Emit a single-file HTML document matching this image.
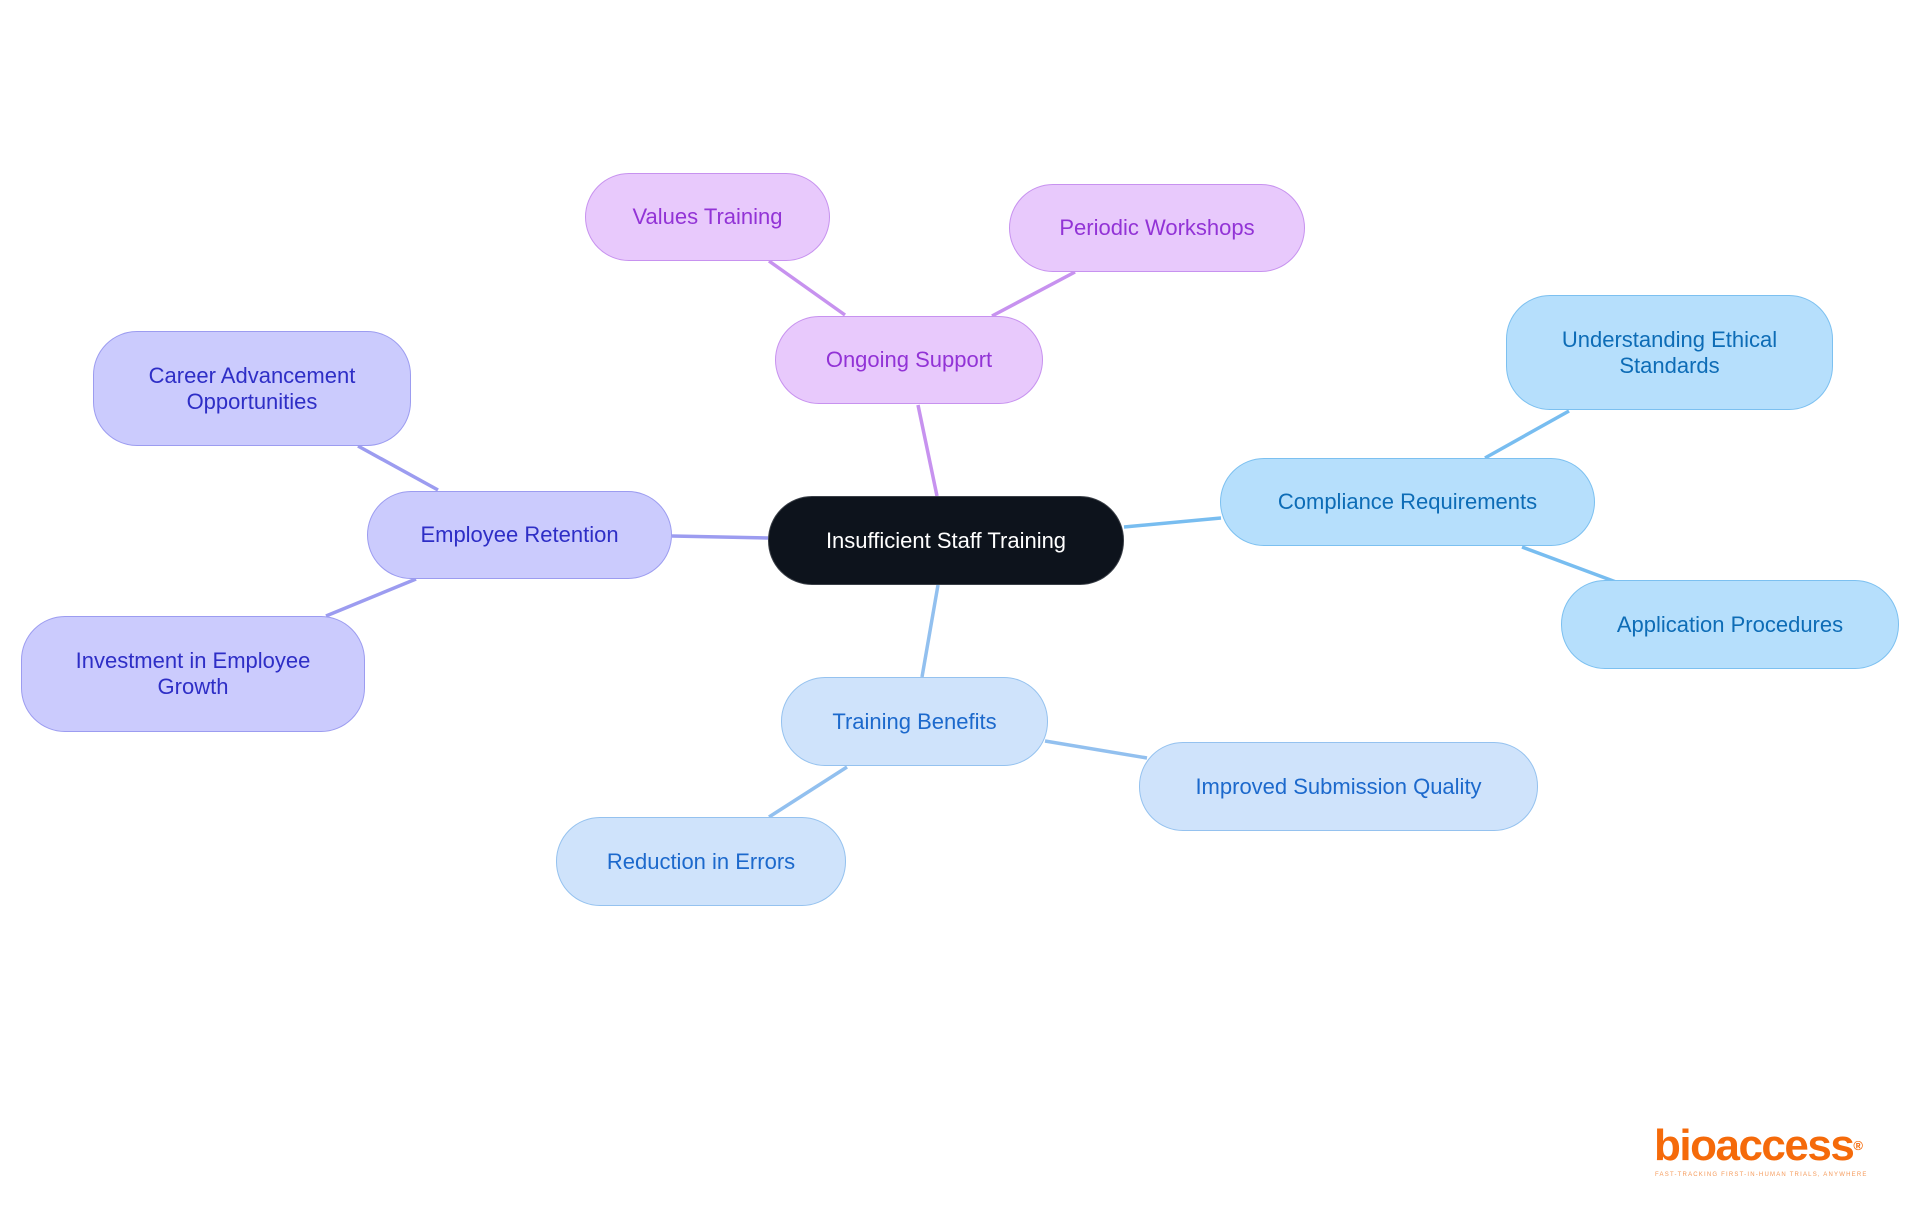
<!DOCTYPE html>
<html><head><meta charset="utf-8"><style>
html,body{margin:0;padding:0;background:#fff;width:1920px;height:1215px;overflow:hidden}
.n{position:absolute;box-sizing:border-box;border-radius:44px;display:flex;align-items:center;justify-content:center;text-align:center;font-family:"Liberation Sans",sans-serif;font-size:22px;line-height:26px;border:1.5px solid}
.p{background:#e8c9fc;border-color:#c792ef;color:#9233d6}
.b{background:#b6dffc;border-color:#7cc0f0;color:#0d6cb6}
.l{background:#cfe3fb;border-color:#95c2ef;color:#1c69cc}
.i{background:#cbcbfd;border-color:#9c9cf0;color:#2e2ec6}
</style></head><body>
<svg width="1920" height="1215" style="position:absolute;left:0;top:0" fill="none" stroke-width="3.5">
<g stroke="#c792ef"><line x1="937" y1="496" x2="918" y2="405"/><line x1="845" y1="315" x2="769" y2="261"/><line x1="992" y1="316" x2="1075" y2="272"/></g>
<g stroke="#78bdf0"><line x1="1124" y1="527" x2="1221" y2="518"/><line x1="1485" y1="458" x2="1569" y2="411"/><line x1="1522" y1="547" x2="1616" y2="582"/></g>
<g stroke="#92c0ef"><line x1="938" y1="585" x2="922" y2="677"/><line x1="1045" y1="741" x2="1147" y2="758"/><line x1="847" y1="767" x2="769" y2="817"/></g>
<g stroke="#9c9cf0"><line x1="768" y1="538" x2="672" y2="536"/><line x1="438" y1="490" x2="358" y2="446"/><line x1="416" y1="579" x2="326" y2="616"/></g>
</svg>
<div class="n" style="left:768px;top:496px;width:356px;height:89px;background:#0d131c;border-color:#3a3f47;color:#fff">Insufficient Staff Training</div>
<div class="n p" style="left:775px;top:316px;width:268px;height:88px">Ongoing Support</div>
<div class="n p" style="left:585px;top:173px;width:245px;height:88px">Values Training</div>
<div class="n p" style="left:1009px;top:184px;width:296px;height:88px">Periodic Workshops</div>
<div class="n b" style="left:1220px;top:458px;width:375px;height:88px">Compliance Requirements</div>
<div class="n b" style="left:1506px;top:295px;width:327px;height:115px">Understanding Ethical<br>Standards</div>
<div class="n b" style="left:1561px;top:580px;width:338px;height:89px">Application Procedures</div>
<div class="n l" style="left:781px;top:677px;width:267px;height:89px">Training Benefits</div>
<div class="n l" style="left:1139px;top:742px;width:399px;height:89px">Improved Submission Quality</div>
<div class="n l" style="left:556px;top:817px;width:290px;height:89px">Reduction in Errors</div>
<div class="n i" style="left:367px;top:491px;width:305px;height:88px">Employee Retention</div>
<div class="n i" style="left:93px;top:331px;width:318px;height:115px">Career Advancement<br>Opportunities</div>
<div class="n i" style="left:21px;top:616px;width:344px;height:116px">Investment in Employee<br>Growth</div>
<div style="position:absolute;left:1654px;top:1124px;font-family:'Liberation Sans',sans-serif;font-weight:bold;font-size:44px;color:#f56a0a;letter-spacing:-1.5px;line-height:44px">bioaccess<sup style="font-size:13px;vertical-align:top">®</sup></div>
<div style="position:absolute;left:1655px;top:1172px;font-family:'Liberation Sans',sans-serif;font-size:6px;color:#f59a5a;letter-spacing:1.2px">FAST-TRACKING FIRST-IN-HUMAN TRIALS, ANYWHERE</div>
</body></html>
